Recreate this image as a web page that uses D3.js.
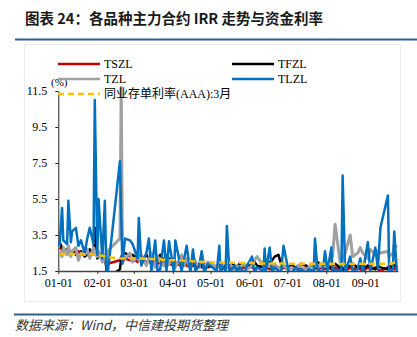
<!DOCTYPE html>
<html><head><meta charset="utf-8">
<script src="https://cdn.jsdelivr.net/npm/d3@7"></script>
<style>body{margin:0;background:#fff;} svg{display:block;}</style>
</head><body><svg id="c" width="417" height="337"></svg>
<script>
// ---- data (2024) ----
const dates = [
"01-02","01-04","01-05","01-08","01-09","01-11","01-12","01-15","01-17","01-19",
"01-22","01-24","01-26","01-29","01-30","02-01","02-02","02-05","02-07","02-08",
"02-09","02-19","02-20","02-21","02-23","02-27","02-29","03-04","03-05","03-07",
"03-11","03-13","03-15","03-18","03-20","03-22","03-25","03-27","03-29","04-02",
"04-03","04-08","04-10","04-12","04-15","04-17","04-19","04-22","04-24","04-26",
"04-29","05-06","05-08","05-09","05-10","05-13","05-14","05-16","05-20","05-22",
"05-24","05-28","05-30","06-03","06-05","06-07","06-12","06-13","06-14","06-17",
"06-19","06-21","06-24","06-26","06-28","07-02","07-04","07-08","07-10","07-12",
"07-16","07-18","07-22","07-23","07-25","07-29","07-31","08-02","08-05","08-06",
"08-08","08-12","08-13","08-14","08-16","08-20","08-22","08-26","08-28","08-30",
"09-03","09-05","09-09","09-11","09-13","09-19","09-20","09-23","09-24","09-26"];

const tszl = [
2.8,2.7,2.6,2.7,2.6,2.5,2.6,2.5,2.6,2.5,
2.4,2.6,2.5,2.4,2.5,2.4,2.3,2.4,2.2,2.1,
1.9,2.1,2.2,2.0,2.2,2.1,2.2,2.0,2.1,2.2,
2.0,2.1,1.9,2.0,1.9,2.0,1.9,1.8,1.9,1.8,
1.9,1.8,1.9,1.8,1.7,1.8,1.9,1.8,1.7,1.8,
1.7,1.8,1.9,2.0,1.7,1.6,1.8,1.7,1.6,1.7,
1.6,1.7,1.8,1.7,1.6,1.7,1.8,1.6,1.7,1.6,
1.7,1.8,1.7,1.6,1.7,1.6,1.7,1.6,1.7,1.6,
1.7,1.6,1.5,1.7,1.6,1.7,1.6,1.7,1.6,1.5,
1.7,1.6,1.7,1.6,1.5,1.7,1.6,1.7,1.6,1.5,
1.7,1.6,1.7,1.6,1.5,1.7,1.6,1.7,1.6,1.7];

const tfzl = [
3.1,2.8,2.6,2.7,2.5,2.4,2.6,2.4,2.3,2.6,
2.3,2.4,2.7,2.5,3.9,2.2,2.5,2.3,2.1,1.8,
1.1,1.6,2.2,2.5,2.5,2.3,2.4,2.2,2.3,2.1,
2.4,2.2,2.3,2.0,2.2,2.4,2.1,2.0,2.2,2.0,
1.9,2.1,1.8,2.0,1.8,1.9,1.7,1.9,1.8,1.7,
1.8,1.7,1.8,1.7,1.6,1.8,1.7,1.9,1.8,1.7,
1.9,1.8,1.7,1.9,2.0,1.8,1.7,1.9,1.8,2.0,
2.1,2.3,2.4,1.9,1.8,1.7,1.8,1.7,1.8,1.9,
1.8,1.7,1.8,1.9,2.0,1.8,1.9,1.8,1.7,1.8,
1.9,1.7,1.8,1.6,1.7,1.8,1.9,1.7,1.8,1.6,
1.8,1.7,1.6,1.8,1.7,1.6,1.8,1.7,1.9,1.7];

const tzl = [
2.6,2.3,2.8,2.4,2.9,2.3,2.6,2.8,2.1,2.5,
2.4,2.7,2.2,2.8,2.5,2.3,2.6,2.0,2.4,1.9,
2.6,3.3,11.7,2.4,2.2,2.5,2.0,2.3,2.1,2.4,
1.8,2.2,2.5,1.7,2.3,2.0,1.8,2.4,1.9,2.2,
1.7,2.4,1.8,2.2,1.6,2.3,2.0,1.7,2.4,1.8,
2.0,1.7,2.0,1.6,1.8,2.0,1.7,1.9,1.6,1.8,
1.7,1.9,1.6,1.8,2.1,2.3,1.8,1.7,2.0,1.8,
1.7,1.9,1.6,1.7,1.8,1.6,1.7,1.6,1.8,1.7,
1.6,1.7,1.8,2.0,1.7,1.8,2.0,1.7,2.2,2.3,
4.1,2.0,1.8,2.2,2.5,3.5,2.3,2.5,2.8,2.5,
2.2,2.7,2.4,2.6,2.5,2.6,2.3,2.5,3.0,2.8];

const tlzl = [
2.9,5.0,3.2,3.0,5.4,3.1,3.7,3.9,2.9,3.2,
2.5,3.3,3.9,3.0,11.0,2.4,5.5,2.2,5.4,2.1,
1.2,7.6,4.5,1.9,3.3,3.2,3.0,2.2,4.45,1.8,
2.5,3.3,1.5,3.2,1.4,1.6,3.2,1.5,3.15,1.4,
3.2,1.5,2.2,2.9,1.4,2.7,1.5,1.8,2.6,1.4,
1.9,1.5,2.9,1.4,1.8,1.5,4.0,1.4,1.8,1.5,
1.7,1.4,1.8,2.3,1.4,1.7,1.5,2.75,1.5,2.8,
1.4,1.7,1.5,1.4,2.9,1.5,1.4,1.7,1.5,1.6,
1.4,1.6,1.5,3.3,1.6,1.4,2.6,1.5,2.8,1.4,
1.6,1.5,1.4,6.8,1.4,2.3,1.5,1.6,2.2,1.4,
3.1,1.5,2.8,1.6,3.9,5.7,1.4,1.6,3.7,1.5];

const cdDates = ["01-02","01-20","02-01","02-08","02-20","03-01","03-15","04-01","04-15","05-01",
"05-15","06-01","06-15","07-01","07-15","08-01","08-15","09-01","09-20","09-25","09-27"];
const cdRate = [2.45,2.44,2.40,2.30,2.20,2.20,2.17,2.10,2.05,1.98,
1.96,1.94,1.92,1.91,1.90,1.90,1.89,1.90,1.90,2.0,2.2];

const yTicks = [1.5,3.5,5.5,7.5,9.5,11.5];
const xTickLabels = ["01-01","02-01","03-01","04-01","05-01","06-01","07-01","08-01","09-01"];
const seriesNames = ["TSZL","TFZL","TZL","TLZL"];
const cdName = "同业存单利率(AAA):3月";
const titleText = "图表 24：各品种主力合约 IRR 走势与资金利率";
const sourceText = "数据来源：Wind，中信建投期货整理";

// ---- drawing ----
const svg = d3.select("#c");
const parse = d3.timeParse("%Y-%m-%d");
const toDate = s => parse("2024-" + s);
const x = d3.scaleTime().domain([toDate("01-01"), toDate("09-27")]).range([58.3, 398]);
const y = d3.scaleLinear().domain([1.5, 11.5]).range([271, 91]);
const serif = "'Liberation Serif','Times New Roman','Noto Sans CJK SC',serif";

svg.append("text").attr("x", 25).attr("y", 24)
  .attr("font-family", "'Noto Sans CJK SC',sans-serif").attr("font-weight", "bold")
  .attr("font-size", 14.5).attr("fill", "#1a1a1a").text(titleText);

svg.append("rect").attr("x", 15).attr("y", 38.5).attr("width", 402).attr("height", 2).attr("fill", "#2e6391");
svg.append("rect").attr("x", 14).attr("y", 313.5).attr("width", 403).attr("height", 2).attr("fill", "#2e6391");
svg.append("rect").attr("x", 24.5).attr("y", 44.5).attr("width", 376).attr("height", 257)
  .attr("fill", "none").attr("stroke", "#ededed");

svg.append("text").attr("x", 15).attr("y", 330)
  .attr("font-family", "'Noto Sans CJK SC',serif").attr("font-style", "italic")
  .attr("font-size", 13).attr("fill", "#333").text(sourceText);

// axes
const yAxis = svg.append("g").attr("transform", "translate(58.3,0)")
  .call(d3.axisLeft(y).tickValues(yTicks).tickSize(3).tickSizeOuter(0).tickPadding(8).tickFormat(d3.format(".1f")));
yAxis.selectAll("text").attr("font-family", serif).attr("font-size", 12).attr("fill", "#000");
yAxis.selectAll("line,path").attr("stroke", "#222");

const xAxis = svg.append("g").attr("transform", "translate(0,271)")
  .call(d3.axisBottom(x).tickValues(xTickLabels.map(toDate)).tickSize(3).tickSizeOuter(0).tickPadding(4)
    .tickFormat(d3.timeFormat("%m-%d")));
xAxis.selectAll("text").attr("font-family", serif).attr("font-size", 12).attr("fill", "#000");
xAxis.selectAll("line").attr("stroke", "#333");
xAxis.select("path").attr("stroke", "#444").attr("stroke-width", 1.5);

svg.append("text").attr("x", 51).attr("y", 86).attr("font-family", serif).attr("font-size", 11).text("(%)");

svg.append("clipPath").attr("id", "clip").append("rect")
  .attr("x", 58).attr("y", 60).attr("width", 345).attr("height", 211);

const plot = svg.append("g").attr("clip-path", "url(#clip)");
const colors = ["#C00000", "#000000", "#A0A0A0", "#0070C0"];
const widths = [2.5, 2.5, 3, 2.5];
const allSeries = [tszl, tfzl, tzl, tlzl];
const line = d3.line().x(d => x(d[0])).y(d => y(d[1]));
allSeries.forEach((vals, i) => {
  const pts = dates.map((d, k) => [toDate(d), vals[k]]);
  plot.append("path").datum(pts).attr("d", line).attr("fill", "none")
    .attr("stroke", colors[i]).attr("stroke-width", widths[i]).attr("stroke-linejoin", "round");
});
const cdPts = cdDates.map((d, k) => [toDate(d), cdRate[k]]);
plot.append("path").datum(cdPts).attr("d", d3.line().x(d => x(d[0])).y(d => y(d[1])).curve(d3.curveMonotoneX))
  .attr("fill", "none").attr("stroke", "#FFC000").attr("stroke-width", 2.5).attr("stroke-dasharray", "6,4");

// legend
const leg = [
  {name: seriesNames[0], c: colors[0], lx: 58, ly: 64, dash: null},
  {name: seriesNames[1], c: colors[1], lx: 232, ly: 64, dash: null},
  {name: seriesNames[2], c: colors[2], lx: 58, ly: 79, dash: null},
  {name: seriesNames[3], c: colors[3], lx: 232, ly: 79, dash: null},
  {name: cdName, c: "#FFC000", lx: 58, ly: 94, dash: "6,4"}
];
leg.forEach(l => {
  svg.append("line").attr("x1", l.lx).attr("x2", l.lx + 42).attr("y1", l.ly).attr("y2", l.ly)
    .attr("stroke", l.c).attr("stroke-width", 2.5).attr("stroke-dasharray", l.dash);
  svg.append("text").attr("x", l.lx + 46).attr("y", l.ly + 4).attr("font-family", serif)
    .attr("font-size", 12).attr("fill", "#000").text(l.name);
});
</script></body></html>
